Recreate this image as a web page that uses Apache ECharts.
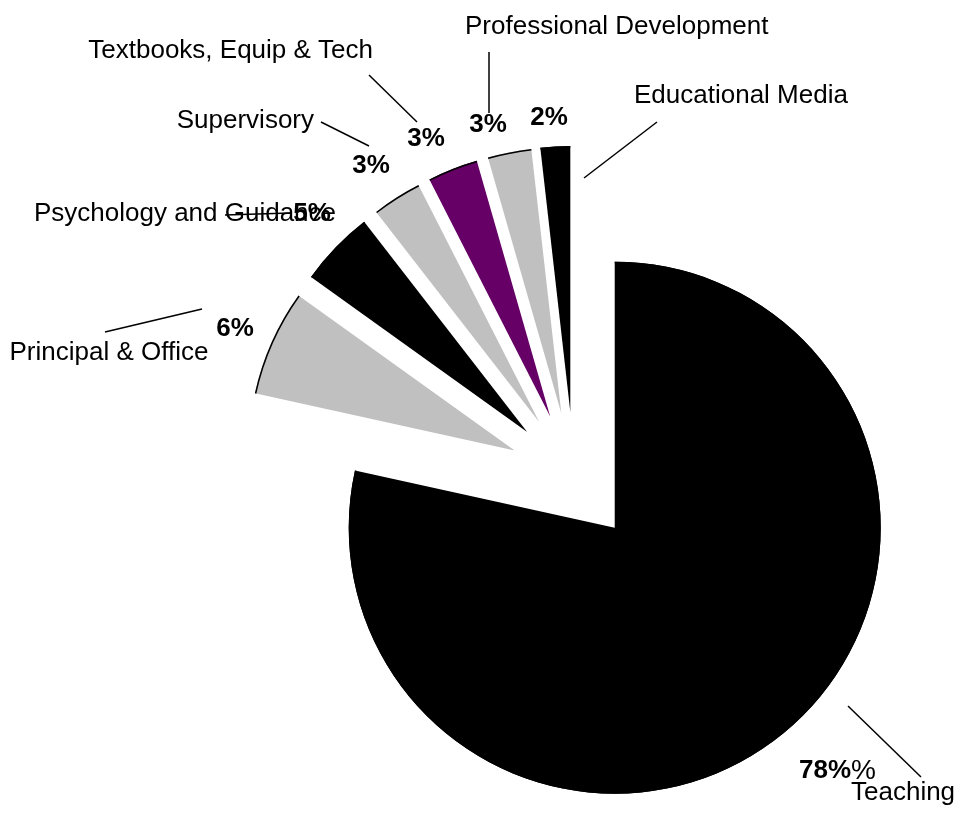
<!DOCTYPE html>
<html>
<head>
<meta charset="utf-8">
<script src="https://cdn.jsdelivr.net/npm/echarts@6/dist/echarts.min.js"></script>
<style>
  html, body { margin: 0; padding: 0; background: #ffffff; }
  #chart { width: 958px; height: 815px; }
</style>
</head>
<body>
<div id="chart"></div>
<script>
// School spending by function, share of total (%)
const categories = [
  'Teaching',
  'Principal & Office',
  'Psychology and Guidance',
  'Supervisory',
  'Textbooks, Equip & Tech',
  'Professional Development',
  'Educational Media'
];
const shares = [78.45, 6.45, 4.6, 3.0, 3.05, 2.65, 1.8];
const sliceColors = ['#000000', '#c0c0c0', '#000000', '#c0c0c0', '#660066', '#c0c0c0', '#000000'];

// label placement (px): [x, y, align]
const pctLabelAt = [[799, 771, 'left'], [235, 329, 'center'], [312, 214, 'center'], [371, 166, 'center'],
                    [426, 139, 'center'], [488, 125, 'center'], [549, 118, 'center']];
const nameLabelAt = [[851, 793, 'left'], [109, 353, 'center'], [185, 214, 'center'], [314, 121, 'right'],
                     [373, 51, 'right'], [465, 27, 'left'], [634, 96, 'left']];
// leader lines (px): [x1, y1, x2, y2]
const leaderAt = [[848, 706, 921, 777], [105, 332, 202, 309], [225, 215, 290, 213], [321, 122, 369, 146],
                  [369, 75, 417, 122], [489, 52, 489, 113], [584, 178, 657, 122]];

const CENTER = [574, 477];
const RADIUS = 266;
const EXPLODE = 65;

const NAME_FONT = '"Liberation Sans", Arial, sans-serif';
const PCT_FONT = '"Liberation Sans", Arial, sans-serif';

function sliceData(colorFor, selected) {
  return categories.map((name, i) => ({
    name: name,
    value: shares[i],
    selected: selected,
    itemStyle: { color: colorFor(i) }
  }));
}

const common = {
  type: 'pie',
  center: CENTER,
  radius: [0, RADIUS],
  startAngle: 90,
  clockwise: true,
  avoidLabelOverlap: false,
  emphasis: { disabled: true },
  animation: false
};

const exploded = Object.assign({}, common, {
  selectedMode: 'multiple',
  selectedOffset: EXPLODE,
  select: { itemStyle: { borderWidth: 0 } },
  label: { show: false },
  labelLine: { show: false }
});

const overlay = Object.assign({}, common, {
  silent: true,
  selectedMode: false
});

const chart = echarts.init(document.getElementById('chart'), null, { renderer: 'canvas' });

chart.setOption({
  backgroundColor: '#ffffff',
  animation: false,
  series: [
    Object.assign({}, exploded, {
      name: 'share',
      data: sliceData(i => sliceColors[i], true)
    }),
    // thin dark rim along the outer arcs
    Object.assign({}, exploded, {
      name: 'rim',
      silent: true,
      radius: [RADIUS - 1.5, RADIUS],
      data: sliceData(() => '#000000', true)
    }),
    // percentage labels
    Object.assign({}, overlay, {
      name: 'percent',
      data: sliceData(() => 'rgba(0,0,0,0)', false),
      label: {
        show: true,
        position: 'outside',
        fontFamily: PCT_FONT,
        fontWeight: 'bold',
        fontSize: 26,
        color: '#000',
        formatter: p => p.dataIndex === 0
          ? '{p|' + Math.round(p.value) + '%}{s|%}'
          : Math.round(p.value) + '%',
        rich: {
          p: { fontFamily: PCT_FONT, fontWeight: 'bold', fontSize: 26, color: '#000' },
          s: { fontFamily: NAME_FONT, fontWeight: 'normal', fontSize: 28, color: '#000' }
        }
      },
      labelLine: { show: false },
      labelLayout: p => ({
        x: pctLabelAt[p.dataIndex][0],
        y: pctLabelAt[p.dataIndex][1],
        align: pctLabelAt[p.dataIndex][2],
        verticalAlign: 'middle'
      })
    }),
    // category names with leader lines
    Object.assign({}, overlay, {
      name: 'names',
      data: sliceData(() => 'rgba(0,0,0,0)', false),
      label: {
        show: true,
        position: 'outside',
        fontFamily: NAME_FONT,
        fontSize: 26,
        color: '#000',
        formatter: '{b}'
      },
      labelLine: {
        show: true,
        length: 10,
        length2: 0,
        lineStyle: { color: '#000', width: 1.5 }
      },
      labelLayout: p => {
        const at = nameLabelAt[p.dataIndex];
        const ln = leaderAt[p.dataIndex];
        return {
          x: at[0],
          y: at[1],
          align: at[2],
          verticalAlign: 'middle',
          labelLinePoints: [[ln[0], ln[1]], [(ln[0] + ln[2]) / 2, (ln[1] + ln[3]) / 2], [ln[2], ln[3]]]
        };
      }
    })
  ]
});
</script>
</body>
</html>
